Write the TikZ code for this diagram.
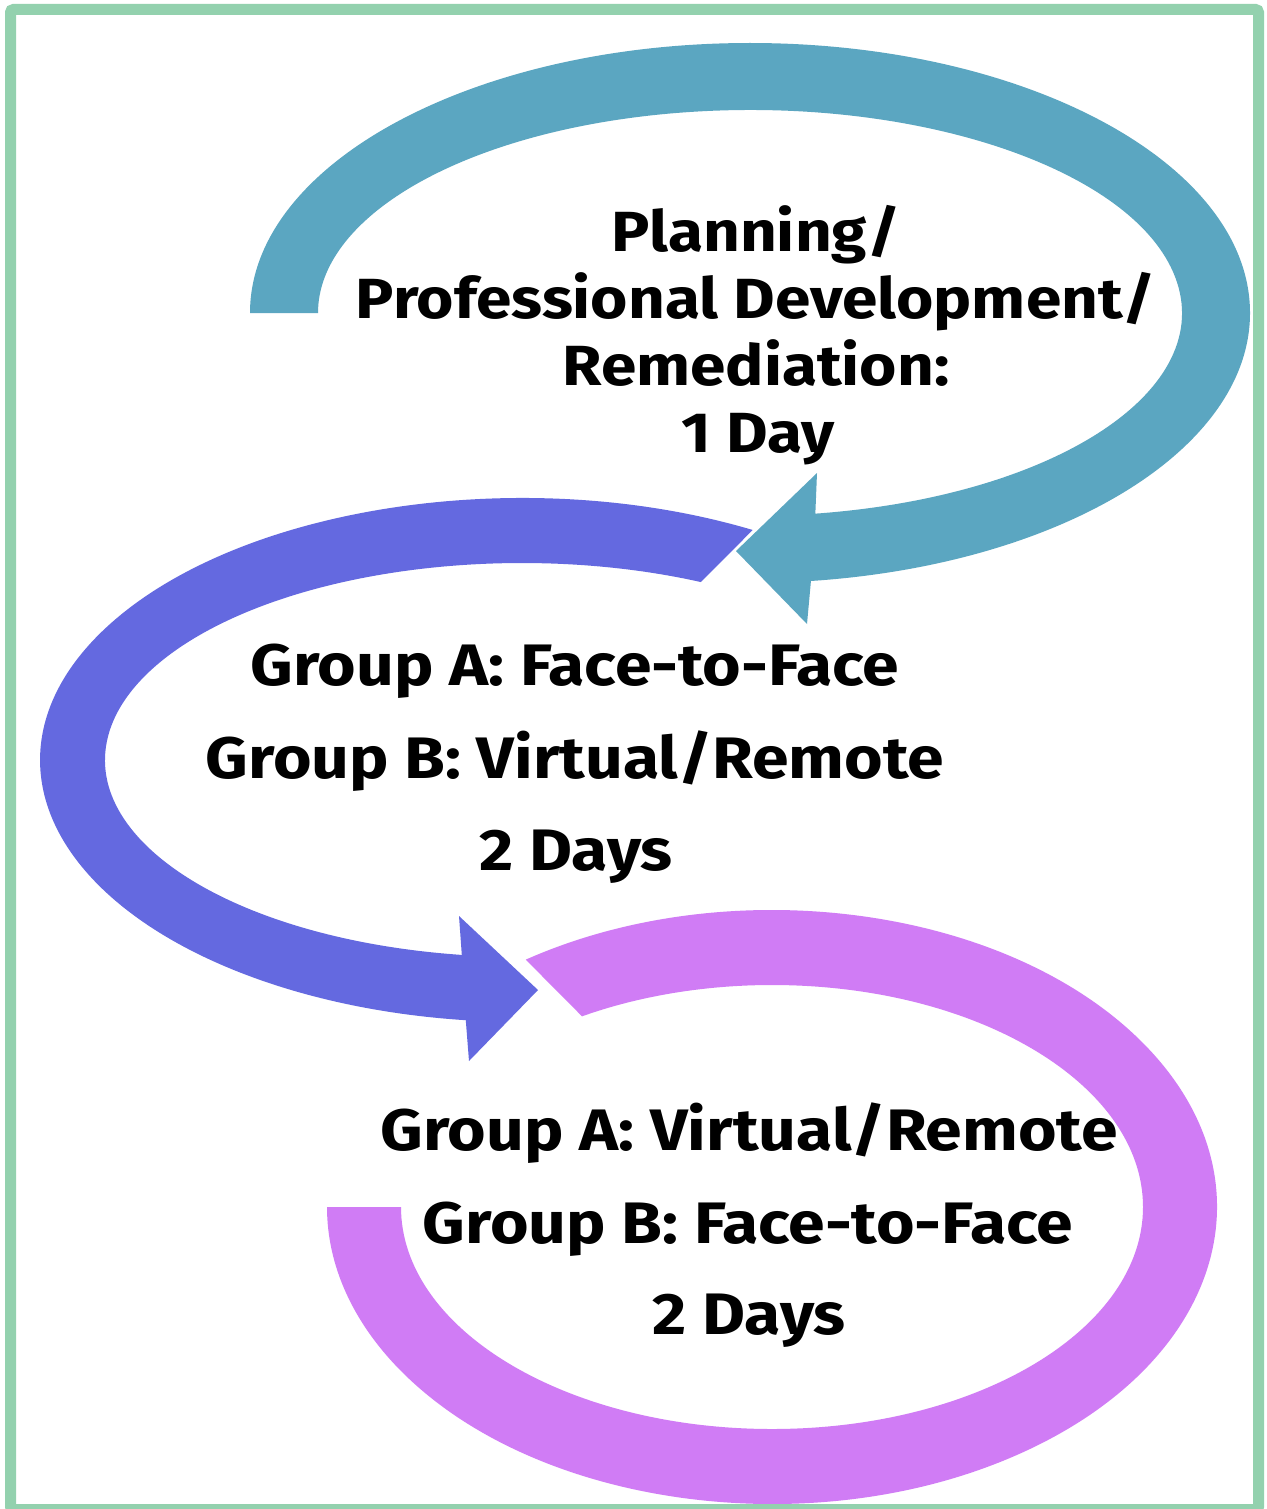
\documentclass[tikz,border=0pt]{standalone}
\usepackage{fontspec}
\setmainfont{Fira Sans}
\usetikzlibrary{calc}
\definecolor{cteal}{RGB}{91,166,193}
\definecolor{cblue}{RGB}{100,105,224}
\definecolor{cviolet}{RGB}{208,124,245}
\definecolor{cgreen}{RGB}{147,209,174}
\newcommand{\wide}[1]{\scalebox{1.13}[1]{#1}}
\tikzset{
  lbl/.style={anchor=base, inner sep=0pt, font=\fontsize{56.6}{67}\selectfont\bfseries, text=black},
  lblb/.style={lbl, font=\fontsize{58.5}{67}\selectfont\bfseries},
  frame/.style={draw=cgreen, line width=11pt, rounded corners=3pt}
}
\begin{document}
\begin{tikzpicture}[x=1pt,y=-1pt]
\useasboundingbox (0,0) rectangle (1266,1509);
\fill[white] (0,0) rectangle (1266,1509);
% teal arrow
\fill[cteal] ($(750,313)+(180:500 and 270)$)
  arc[start angle=180,end angle=443,x radius=500,y radius=270]
  -- (807,624) -- (736,551) -- (817,473)
  -- ($(750,313)+(441.3:432 and 203)$)
  arc[start angle=441.3,end angle=180,x radius=432,y radius=203] -- cycle;
% blue arrow
\fill[cblue] ($(522,760)+(-61.4:482 and 262)$)
  arc[start angle=-61.4,end angle=-263.3,x radius=482,y radius=262]
  -- (469,1061) -- (538,990) -- (459,916)
  -- ($(522,760)+(-261.7:417 and 197)$)
  arc[start angle=-261.7,end angle=-64.6,x radius=417,y radius=197] -- cycle;
% violet arrow
\fill[cviolet] ($(772,1207)+(-123.6:445 and 297)$)
  arc[start angle=-123.6,end angle=180,x radius=445,y radius=297]
  -- ($(772,1207)+(180:371 and 222)$)
  arc[start angle=180,end angle=-120.8,x radius=371,y radius=222] -- cycle;
% frame
\draw[frame] (10.5,9.5) rectangle (1258.5,1509.5);
% texts
\node[lbl] (t1) at (756,251) {\wide{Planning/}};
\node[lbl] (t2) at (756,318) {\wide{Professional Development/}};
\node[lbl] (t3) at (756,385) {\wide{Remediation:}};
\node[lbl] (t4) at (758,452) {\wide{1 Day}};
\node[lblb] (m1) at (575,685) {\wide{Group A: Face-to-Face}};
\node[lblb] (m2) at (575,778) {\wide{Group B: Virtual/Remote}};
\node[lblb] (m3) at (576,870) {\wide{2 Days}};
\node[lblb] (b1) at (749,1150) {\wide{Group A: Virtual/Remote}};
\node[lblb] (b2) at (748,1243) {\wide{Group B: Face-to-Face}};
\node[lblb] (b3) at (749,1334) {\wide{2 Days}};
\end{tikzpicture}
\end{document}
